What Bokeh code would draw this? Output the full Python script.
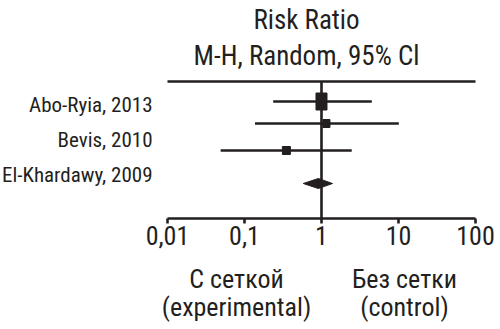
from bokeh.plotting import figure
from bokeh.models import Range1d, Label, FixedTicker, ColumnDataSource, LogAxis
from bokeh.embed import file_html
from bokeh.resources import INLINE

# ---- data ----
studies = ["Abo-Ryia, 2013", "Bevis, 2010", "El-Khardawy, 2009"]
rr = [1.0, 1.16, 0.35]
ci_low = [0.236, 0.137, 0.049]
ci_high = [4.5, 10.1, 2.47]
pooled_rr = 0.91
pooled_low = 0.58
pooled_high = 1.39
tick_values = [0.01, 0.1, 1, 10, 100]
tick_labels = ["0,01", "0,1", "1", "10", "100"]
title_lines = ["Risk Ratio", "M-H, Random, 95% Cl"]
left_side = ["С сеткой", "(experimental)"]
right_side = ["Без сетки", "(control)"]

# ---- layout / style (y in pixels from top) ----
row_y = [101, 123, 150]
label_y = [104, 139, 174]
diamond_y = 183
top_line_y = 81
axis_y = 218
sq_w = [11, 7, 8]
sq_h = [17, 8, 8]
FONT = "'Roboto Condensed', 'DejaVu Sans Condensed', sans-serif"
INK = "#231f20"
LW = 2.6

p = figure(width=500, height=329, x_axis_type="log",
           x_range=Range1d(10 ** -4.1688, 10 ** 2.3247), y_range=Range1d(329, 0),
           min_border=0, x_axis_location=None, y_axis_location=None,
           toolbar_location=None, output_backend="svg")
p.grid.visible = False
p.outline_line_color = None
p.background_fill_color = "white"
p.border_fill_color = "white"

ax = LogAxis(fixed_location=axis_y, bounds=(0.01, 100))
ax.ticker = FixedTicker(ticks=tick_values, minor_ticks=[])
ax.major_label_overrides = {v: s for v, s in zip(tick_values, tick_labels)}
ax.axis_line_width = LW
ax.axis_line_color = INK
ax.major_tick_line_width = LW
ax.major_tick_line_color = INK
ax.major_tick_out = 5
ax.major_tick_in = 0
ax.minor_tick_line_color = None
ax.major_label_text_font = FONT
ax.major_label_text_font_size = "26px"
ax.major_label_text_color = INK
ax.major_label_standoff = 2
p.add_layout(ax, "below")

# top rule and line of no effect
p.segment(x0=[0.01], x1=[100], y0=[top_line_y], y1=[top_line_y], line_width=LW, line_color=INK)
p.segment(x0=[1], x1=[1], y0=[top_line_y], y1=[axis_y], line_width=LW, line_color=INK)

src = ColumnDataSource(dict(rr=rr, lo=ci_low, hi=ci_high, y=row_y, w=sq_w, h=sq_h))
p.segment(x0="lo", x1="hi", y0="y", y1="y", source=src, line_width=LW, line_color=INK)
p.rect(x="rr", y="y", width="w", height="h", width_units="screen", height_units="screen",
       source=src, fill_color=INK, line_color=INK)

p.patch(x=[pooled_low, pooled_rr, pooled_high, pooled_rr],
        y=[diamond_y, diamond_y - 5, diamond_y, diamond_y + 5],
        fill_color=INK, line_color=INK)

for name, yb in zip(studies, label_y):
    p.add_layout(Label(x=152, y=yb, x_units="screen", text=name, text_align="right",
                       text_baseline="alphabetic", text_font=FONT, text_font_size="21px",
                       text_color=INK))

for t, yb in zip(title_lines, [19, 55]):
    p.add_layout(Label(x=306, y=yb, x_units="screen", text=t, text_align="center",
                       text_baseline="alphabetic", text_font=FONT, text_font_size="27px",
                       text_color=INK))

for texts, cx in ((left_side, 236), (right_side, 404)):
    for t, yb in zip(texts, [278, 306]):
        p.add_layout(Label(x=cx, y=yb, x_units="screen", text=t, text_align="center",
                           text_baseline="alphabetic", text_font=FONT, text_font_size="26px",
                           text_color=INK))

open("out.html", "w").write(file_html(p, INLINE))
